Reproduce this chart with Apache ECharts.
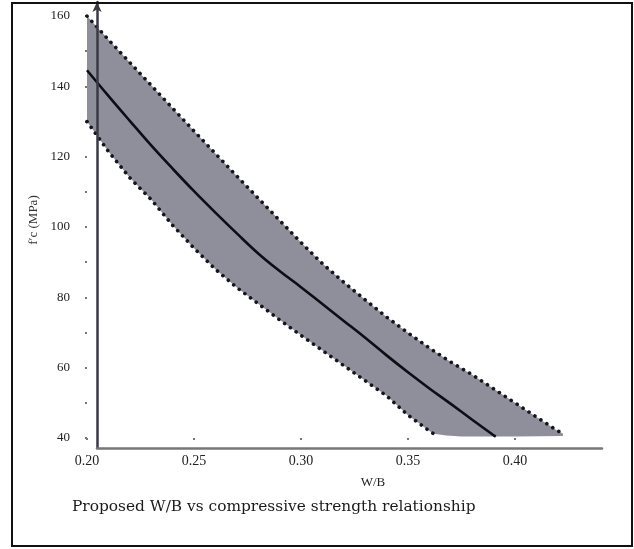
<!DOCTYPE html>
<html>
<head>
<meta charset="utf-8">
<script src="https://cdn.jsdelivr.net/npm/echarts@6/dist/echarts.min.js"></script>
<style>
html,body{margin:0;padding:0;background:#fff;}
#chart{width:634px;height:549px;}
</style>
</head>
<body>
<div id="chart"></div>
<script>
// ---- data ----
const xTickValues = [0.20, 0.25, 0.30, 0.35, 0.40];
const yLabelValues = [40, 60, 80, 100, 120, 140, 160];
const yTickValues = [40, 50, 60, 70, 80, 90, 100, 110, 120, 130, 140, 150, 160];

const midWB  = [0.20, 0.21, 0.22, 0.23, 0.24, 0.25, 0.26, 0.27, 0.28, 0.29, 0.30, 0.31, 0.32, 0.33, 0.34, 0.35, 0.36, 0.37, 0.38, 0.39, 0.391];
const midFc  = [144.6, 137.3, 130.2, 123.2, 116.6, 110.2, 104.1, 98.2, 92.5, 87.5, 82.9, 78.1, 73.3, 68.5, 63.5, 58.7, 54.1, 49.7, 45.2, 40.8, 40.4];

const upperWB = [0.20, 0.21, 0.22, 0.23, 0.24, 0.25, 0.26, 0.27, 0.28, 0.29, 0.30, 0.31, 0.32, 0.33, 0.34, 0.35, 0.36, 0.37, 0.38, 0.39, 0.40, 0.41, 0.42, 0.4224];
const upperFc = [160.0, 153.3, 146.8, 140.3, 133.8, 127.3, 120.9, 114.5, 108.2, 101.9, 95.6, 89.6, 84.3, 79.3, 74.4, 69.9, 65.6, 61.6, 58.0, 54.0, 50.0, 46.0, 42.0, 41.3];

const lowerWB = [0.20, 0.21, 0.22, 0.23, 0.24, 0.25, 0.26, 0.27, 0.28, 0.29, 0.30, 0.31, 0.32, 0.33, 0.34, 0.35, 0.36, 0.362];
const lowerFc = [130.0, 121.5, 114.0, 107.8, 100.5, 94.0, 88.0, 82.8, 78.2, 73.6, 69.2, 64.9, 60.6, 56.3, 52.0, 46.5, 42.0, 41.2];

// bottom edge of the grey band (between lower dotted end and upper dotted end)
const bottomWB = [0.4224, 0.40, 0.375, 0.368];
const bottomFc = [40.6, 40.4, 40.4, 40.7];

const xAxisName = 'W/B';
const yAxisName = "f′c (MPa)";
const caption = 'Proposed W/B vs compressive strength relationship';

// ---- build ----
const pairs = (xs, ys) => xs.map((x, i) => [x, ys[i]]);
const upperPts = pairs(upperWB, upperFc);
const lowerPts = pairs(lowerWB, lowerFc);
const bottomPts = pairs(bottomWB, bottomFc);
const bandPoly = upperPts.concat(bottomPts, lowerPts.slice().reverse());

const serif = "'Liberation Serif', 'DejaVu Serif', serif";
const dotted = { type: [0.1, 7], cap: 'round', width: 3.6, color: '#15151c' };

const chart = echarts.init(document.getElementById('chart'), null, { renderer: 'canvas' });
chart.setOption({
  animation: false,
  backgroundColor: '#fff',
  graphic: [{
    type: 'rect',
    shape: { x: 12, y: 3, width: 620, height: 543 },
    style: { fill: 'none', stroke: '#111', lineWidth: 2 },
    z: 100
  }],
  title: [{
    text: xAxisName,
    left: 373, top: 476, textAlign: 'center', padding: 0,
    textStyle: { fontFamily: serif, fontSize: 13, fontWeight: 'normal', color: '#222' }
  }, {
    text: caption,
    left: 72, top: 499, padding: 0,
    textStyle: { fontFamily: "'DejaVu Serif', serif", fontSize: 15.4, fontWeight: 'normal', color: '#1a1a1a' }
  }],
  grid: [
    { left: 87, right: 33.4, top: 2, bottom: 111 },
    { left: 97, right: 32, top: 2, bottom: 101 }
  ],
  xAxis: [{
    type: 'value', gridIndex: 0, min: 0.20, max: 0.44,
    axisLine: { show: false },
    splitLine: { show: false },
    axisTick: { show: true, length: 2, customValues: xTickValues, lineStyle: { color: '#777', width: 2 } },
    axisLabel: { customValues: xTickValues, margin: 16, fontFamily: serif, fontSize: 14, color: '#222',
      formatter: v => v.toFixed(2) }
  }, {
    type: 'value', gridIndex: 1, min: 0, max: 1, z: 10,
    axisLine: { show: true, lineStyle: { color: '#777', width: 2.5 } },
    axisTick: { show: false }, axisLabel: { show: false }, splitLine: { show: false }
  }],
  yAxis: [{
    type: 'value', gridIndex: 0, min: 40, max: 164,
    axisLine: { show: false },
    splitLine: { show: false },
    axisTick: { show: true, length: 2, customValues: yTickValues, lineStyle: { color: '#777', width: 2 } },
    axisLabel: { customValues: yLabelValues, margin: 17, fontFamily: serif, fontSize: 13, color: '#222' },
    name: yAxisName, nameLocation: 'middle', nameGap: 46, nameRotate: 90,
    nameTextStyle: { fontFamily: serif, fontSize: 13, color: '#333' }
  }, {
    type: 'value', gridIndex: 1, min: 0, max: 1, z: 10,
    axisLine: { show: true, symbol: ['none', 'arrow'], symbolSize: [7, 10], lineStyle: { color: '#3a3a44', width: 2.5 } },
    axisTick: { show: false }, axisLabel: { show: false }, splitLine: { show: false }
  }],
  series: [{
    type: 'custom', xAxisIndex: 0, yAxisIndex: 0, z: 1,
    data: bandPoly,
    renderItem: function (params, api) {
      if (params.dataIndex !== 0) return null;
      const pts = bandPoly.map(p => api.coord(p));
      return { type: 'polygon', shape: { points: pts }, style: { fill: '#8e8f9b', stroke: 'none' } };
    },
    silent: true
  }, {
    type: 'line', name: 'upper', data: upperPts, showSymbol: false, z: 3,
    lineStyle: dotted
  }, {
    type: 'line', name: 'lower', data: lowerPts, showSymbol: false, z: 3,
    lineStyle: dotted
  }, {
    type: 'line', name: 'mean', data: pairs(midWB, midFc), showSymbol: false, smooth: 0.4, z: 4,
    lineStyle: { color: '#0d0d14', width: 2.6 }
  }]
});
</script>
</body>
</html>
